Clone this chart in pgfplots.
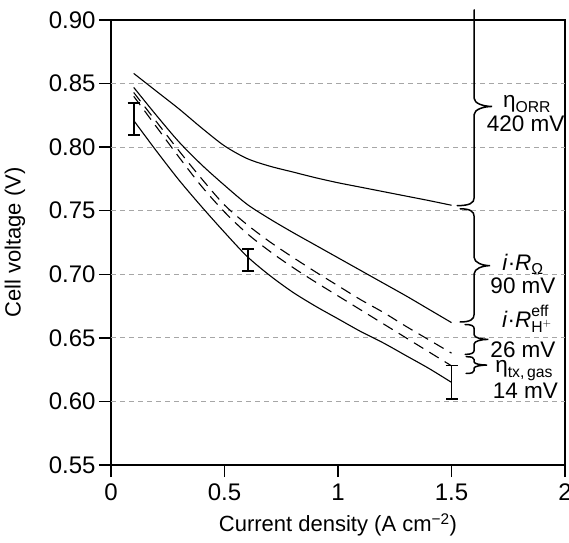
\documentclass[border=0pt]{standalone}
\usepackage{pgfplots}
\pgfplotsset{compat=1.18}
\usepackage{amsmath}
\usepackage{fontspec}
\setmainfont{Liberation Sans}

\newcommand{\bracepath}[6]{% #1 top y, #2 mid y, #3 bottom y, #4 curl length, #5 left hook, #6 tip
  \draw[line width=1.5pt, line cap=round]
    ([xshift=-#5]axis cs:1.6,#1) .. controls ([xshift={-0.3*#5}]axis cs:1.6,#1) and ([yshift={-0.3*#4}]axis cs:1.6,#1) .. ([yshift=-#4]axis cs:1.6,#1)
    -- ([yshift=#4]axis cs:1.6,#2) .. controls ([yshift={0.4*#4}]axis cs:1.6,#2) and ([xshift={0.5*#6}]axis cs:1.6,#2) .. ([xshift=#6]axis cs:1.6,#2)
    .. controls ([xshift={0.5*#6}]axis cs:1.6,#2) and ([yshift={-0.4*#4}]axis cs:1.6,#2) .. ([yshift=-#4]axis cs:1.6,#2)
    -- ([yshift=#4]axis cs:1.6,#3) .. controls ([yshift={0.3*#4}]axis cs:1.6,#3) and ([xshift={-0.3*#5}]axis cs:1.6,#3) .. ([xshift=-#5]axis cs:1.6,#3);
}

\begin{document}
\begin{tikzpicture}
\begin{axis}[
  scale only axis,
  width=454pt, height=445pt,
  xmin=0, xmax=2, ymin=0.55, ymax=0.90,
  xtick={0,0.5,1,1.5,2},
  ytick={0.55,0.60,0.65,0.70,0.75,0.80,0.85,0.90},
  yticklabel style={/pgf/number format/.cd, fixed, fixed zerofill, precision=2},
  xticklabel style={yshift=-3pt},
  /pgf/number format/assume math mode=true,
  tick align=outside,
  major tick length=12pt,
  tick style={line width=1.3pt, black},
  axis line style={line width=1.4pt},
  xtick pos=bottom, ytick pos=left,
  ticklabel style={font=\fontsize{24}{28}\selectfont},
  xlabel={Current density (A cm\textsuperscript{−2})},
  ylabel={Cell voltage (V)},
  every axis x label/.style={at={(axis description cs:0.5,-0.1348)}, anchor=center, font=\fontsize{22}{26}\selectfont},
  every axis y label/.style={at={(axis description cs:-0.2115,0.5)}, rotate=90, anchor=center, font=\fontsize{22}{26}\selectfont},
  clip=false,
]
% grid lines
\pgfplotsinvokeforeach{0.60,0.65,0.70,0.75,0.80,0.85}{
  \addplot[gray!70, line width=0.8pt, dash pattern=on 5pt off 4pt, forget plot] coordinates {(0,#1) (2,#1)};
}
% top solid
\addplot[black, line width=1.1pt, smooth] coordinates {
(0.1,0.858) (0.2,0.844) (0.3,0.830) (0.4,0.815) (0.5,0.801) (0.6,0.791) (0.7,0.785) (0.8,0.7805) (0.9,0.776) (1.0,0.772) (1.1,0.7685) (1.2,0.765) (1.3,0.7615) (1.4,0.758) (1.5,0.7543)};
% second solid
\addplot[black, line width=1.1pt, smooth] coordinates {
(0.1,0.847) (0.2,0.825) (0.3,0.804) (0.4,0.786) (0.5,0.770) (0.6,0.755) (0.7,0.7435) (0.8,0.733) (0.9,0.723) (1.0,0.713) (1.1,0.703) (1.2,0.693) (1.3,0.683) (1.4,0.6725) (1.5,0.662)};
% upper dashed
\addplot[black, line width=1.1pt, smooth, dash pattern=on 11pt off 7pt] coordinates {
(0.1,0.843) (0.2,0.820) (0.3,0.797) (0.4,0.775) (0.5,0.7545) (0.6,0.739) (0.7,0.7255) (0.8,0.7135) (0.9,0.702) (1.0,0.691) (1.1,0.680) (1.2,0.670) (1.3,0.659) (1.4,0.6485) (1.5,0.638)};
% lower dashed
\addplot[black, line width=1.1pt, smooth, dash pattern=on 11pt off 7pt] coordinates {
(0.1,0.840) (0.2,0.816) (0.3,0.792) (0.4,0.769) (0.5,0.749) (0.6,0.732) (0.7,0.718) (0.8,0.7055) (0.9,0.694) (1.0,0.683) (1.1,0.672) (1.2,0.661) (1.3,0.650) (1.4,0.639) (1.5,0.628)};
% bottom solid
\addplot[black, line width=1.1pt, smooth] coordinates {
(0.1,0.821) (0.2,0.797) (0.3,0.774) (0.4,0.753) (0.5,0.733) (0.6,0.714) (0.7,0.699) (0.8,0.686) (0.9,0.675) (1.0,0.665) (1.1,0.655) (1.2,0.646) (1.3,0.636) (1.4,0.626) (1.5,0.615)};
% error bars
\addplot[draw=none, mark=none,
  error bars/.cd, y dir=both, y explicit,
  error bar style={draw=black, line width=1.8pt},
  error mark options={draw=black, rotate=90, mark size=6pt, line width=1.8pt}]
  coordinates {(0.1,0.8222) +- (0,0.0128) (0.605,0.7114) +- (0,0.0088) (1.5,0.615) +- (0,0.0133)};

% braces
\draw[line width=1.5pt, line cap=round] (axis cs:1.6,0.908) -- ([yshift=8pt]axis cs:1.6,0.832)
  .. controls ([yshift=3.2pt]axis cs:1.6,0.832) and ([xshift=9pt]axis cs:1.6,0.832) .. ([xshift=18pt]axis cs:1.6,0.832)
  .. controls ([xshift=9pt]axis cs:1.6,0.832) and ([yshift=-3.2pt]axis cs:1.6,0.832) .. ([yshift=-8pt]axis cs:1.6,0.832)
  -- ([yshift=8pt]axis cs:1.6,0.754) .. controls ([yshift=2.4pt]axis cs:1.6,0.754) and ([xshift=-5pt]axis cs:1.6,0.754) .. ([xshift=-17pt]axis cs:1.6,0.754);
\bracepath{0.7515}{0.7068}{0.6625}{8pt}{14pt}{16pt}
\bracepath{0.6605}{0.6488}{0.637}{4.5pt}{9pt}{14pt}
\bracepath{0.6352}{0.6286}{0.622}{3pt}{8pt}{13pt}

% labels
\begin{scope}[every node/.style={font=\fontsize{22.5}{26}\selectfont, inner sep=0pt, anchor=base}]
\node at (axis cs:1.833,0.8315) {$\text{η}_{\text{ORR}}$};
\node at (axis cs:1.827,0.8126) {420 mV};
\node at (axis cs:1.815,0.7031) {$\text{\textit{i}·\textit{R}}_{\text{Ω}}$};
\node at (axis cs:1.815,0.6848) {90 mV};
\node at (axis cs:1.833,0.6585) {$\text{\textit{i}·\textit{R}}^{\text{eff}}_{\text{H}^{+}}$};
\node at (axis cs:1.815,0.6349) {26 mV};
\node at (axis cs:1.82,0.623) {$\text{η}_{\text{tx,\,gas}}$};
\node at (axis cs:1.825,0.6024) {14 mV};
\end{scope}
\end{axis}
\pgfresetboundingbox
\useasboundingbox (-111pt,-77pt) rectangle (458pt,465pt);
\end{tikzpicture}
\end{document}
